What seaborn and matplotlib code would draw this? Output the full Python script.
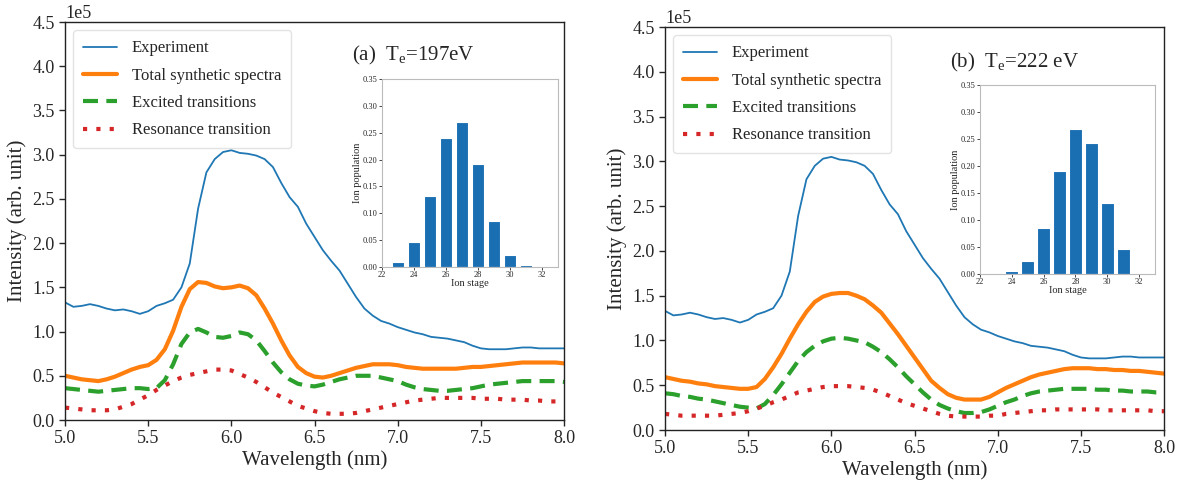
import numpy as np
import matplotlib
matplotlib.use("Agg")
import matplotlib.pyplot as plt
import seaborn as sns

# ---------------- data ----------------
wavelength = np.round(np.arange(5.0, 8.0001, 0.05), 2)

experiment = [1.33, 1.28, 1.29, 1.31, 1.29, 1.26, 1.24, 1.25, 1.23, 1.20,
              1.23, 1.29, 1.32, 1.36, 1.50, 1.77, 2.39, 2.80, 2.95, 3.03,
              3.05, 3.02, 3.01, 2.99, 2.95, 2.86, 2.68, 2.52, 2.41, 2.22,
              2.07, 1.92, 1.80, 1.69, 1.54, 1.39, 1.26, 1.18, 1.12, 1.09,
              1.05, 1.02, 0.99, 0.97, 0.94, 0.93, 0.92, 0.90, 0.88, 0.84,
              0.81, 0.80, 0.80, 0.80, 0.81, 0.82, 0.82, 0.81, 0.81, 0.81,
              0.81]

total_a = [0.50, 0.48, 0.46, 0.45, 0.44, 0.46, 0.49, 0.53, 0.57, 0.60,
           0.62, 0.68, 0.80, 1.01, 1.28, 1.48, 1.56, 1.55, 1.51, 1.49,
           1.50, 1.52, 1.49, 1.41, 1.26, 1.09, 0.90, 0.73, 0.60, 0.53,
           0.49, 0.48, 0.50, 0.53, 0.56, 0.59, 0.61, 0.63, 0.63, 0.63,
           0.62, 0.60, 0.59, 0.58, 0.58, 0.58, 0.58, 0.58, 0.59, 0.60,
           0.60, 0.61, 0.62, 0.63, 0.64, 0.65, 0.65, 0.65, 0.65, 0.65,
           0.64]

excited_a = [0.36, 0.35, 0.34, 0.33, 0.32, 0.33, 0.34, 0.35, 0.36, 0.36,
             0.35, 0.36, 0.45, 0.63, 0.86, 0.99, 1.03, 0.99, 0.94, 0.93,
             0.95, 0.99, 0.97, 0.90, 0.78, 0.65, 0.54, 0.46, 0.41, 0.39,
             0.38, 0.40, 0.43, 0.46, 0.48, 0.50, 0.50, 0.50, 0.48, 0.46,
             0.44, 0.40, 0.37, 0.35, 0.34, 0.33, 0.33, 0.34, 0.35, 0.36,
             0.38, 0.40, 0.41, 0.42, 0.43, 0.44, 0.44, 0.44, 0.44, 0.44,
             0.43]

resonance_a = [0.14, 0.13, 0.12, 0.11, 0.11, 0.11, 0.12, 0.15, 0.18, 0.23,
               0.28, 0.34, 0.39, 0.44, 0.48, 0.51, 0.53, 0.55, 0.57, 0.57,
               0.56, 0.52, 0.48, 0.43, 0.37, 0.31, 0.26, 0.21, 0.16, 0.13,
               0.10, 0.08, 0.07, 0.07, 0.07, 0.08, 0.10, 0.12, 0.14, 0.16,
               0.18, 0.20, 0.22, 0.23, 0.24, 0.25, 0.25, 0.25, 0.25, 0.25,
               0.24, 0.24, 0.24, 0.23, 0.23, 0.23, 0.22, 0.22, 0.21, 0.21,
               0.21]

total_b = [0.59, 0.57, 0.55, 0.54, 0.52, 0.51, 0.49, 0.48, 0.47, 0.46,
           0.46, 0.48, 0.57, 0.70, 0.85, 1.02, 1.18, 1.32, 1.43, 1.49,
           1.52, 1.53, 1.53, 1.50, 1.46, 1.39, 1.31, 1.19, 1.07, 0.94,
           0.81, 0.68, 0.55, 0.47, 0.40, 0.36, 0.34, 0.34, 0.34, 0.37,
           0.42, 0.47, 0.51, 0.55, 0.59, 0.62, 0.64, 0.66, 0.68, 0.69,
           0.69, 0.69, 0.68, 0.68, 0.67, 0.67, 0.66, 0.66, 0.65, 0.64,
           0.63]

excited_b = [0.41, 0.40, 0.38, 0.37, 0.35, 0.34, 0.32, 0.30, 0.28, 0.26,
             0.25, 0.24, 0.29, 0.39, 0.51, 0.64, 0.77, 0.87, 0.94, 0.99,
             1.02, 1.03, 1.02, 1.00, 0.98, 0.93, 0.87, 0.79, 0.70, 0.60,
             0.51, 0.42, 0.34, 0.28, 0.24, 0.21, 0.19, 0.19, 0.20, 0.23,
             0.27, 0.31, 0.34, 0.38, 0.41, 0.43, 0.44, 0.45, 0.46, 0.46,
             0.46, 0.46, 0.45, 0.45, 0.44, 0.44, 0.43, 0.43, 0.43, 0.42,
             0.42]

resonance_b = [0.18, 0.17, 0.16, 0.16, 0.16, 0.16, 0.16, 0.17, 0.18, 0.19,
               0.21, 0.24, 0.27, 0.31, 0.34, 0.38, 0.42, 0.44, 0.46, 0.48,
               0.49, 0.49, 0.49, 0.48, 0.47, 0.45, 0.42, 0.38, 0.34, 0.30,
               0.27, 0.24, 0.21, 0.18, 0.16, 0.15, 0.15, 0.15, 0.15, 0.16,
               0.16, 0.18, 0.19, 0.20, 0.21, 0.22, 0.22, 0.23, 0.23, 0.23,
               0.23, 0.23, 0.23, 0.22, 0.22, 0.22, 0.22, 0.22, 0.22, 0.21,
               0.21]

ion_stage = [23, 24, 25, 26, 27, 28, 29, 30, 31, 32]
ion_pop_a = [0.010, 0.047, 0.133, 0.240, 0.270, 0.192, 0.085, 0.022, 0.003, 0.0]
ion_pop_b = [0.0, 0.005, 0.025, 0.086, 0.190, 0.268, 0.243, 0.131, 0.046, 0.0]

series_labels = ["Experiment", "Total synthetic spectra",
                 "Excited transitions", "Resonance transition"]
panel_titles = [r"(a)  T$_{\rm e}$=197eV", r"(b)  T$_{\rm e}$=222 eV"]
scale = 1e5

# ---------------- style ----------------
sns.set_style("ticks")
plt.rcParams["font.family"] = ["Liberation Serif", "DejaVu Serif"]
plt.rcParams["mathtext.fontset"] = "custom"
plt.rcParams["mathtext.rm"] = "Liberation Serif"
plt.rcParams["mathtext.it"] = "Liberation Serif:italic"
plt.rcParams["axes.edgecolor"] = "#222222"

fig = plt.figure(figsize=(11.8, 4.86), dpi=100)
main_rects = [[0.0551, 0.1358, 0.4229, 0.8189], [0.5636, 0.1152, 0.4229, 0.8292]]
inset_rects = [[0.3237, 0.4506, 0.1492, 0.3868], [0.8305, 0.4362, 0.1483, 0.3889]]
title_pos = [(0.298, 0.885), (0.805, 0.872)]

panels = [(total_a, excited_a, resonance_a, ion_pop_a),
          (total_b, excited_b, resonance_b, ion_pop_b)]

for i, (tot, exc, res, pop) in enumerate(panels):
    ax = fig.add_axes(main_rects[i])
    sns.lineplot(x=wavelength, y=np.array(experiment) * scale, ax=ax,
                 color="#1f77b4", lw=1.3, label=series_labels[0])
    sns.lineplot(x=wavelength, y=np.array(tot) * scale, ax=ax,
                 color="#ff7f0e", lw=3, label=series_labels[1])
    sns.lineplot(x=wavelength, y=np.array(exc) * scale, ax=ax,
                 color="#2ca02c", lw=3, linestyle=(0, (3.6, 2.0)), label=series_labels[2])
    sns.lineplot(x=wavelength, y=np.array(res) * scale, ax=ax,
                 color="#d62728", lw=3, linestyle=(0, (1, 2.2)), label=series_labels[3])
    ax.set_xlim(5.0, 8.0)
    ax.set_ylim(0, 4.5e5)
    ax.set_xticks(np.arange(5.0, 8.01, 0.5))
    ax.set_yticks(np.arange(0, 4.51e5, 0.5e5))
    ax.ticklabel_format(axis="y", style="sci", scilimits=(5, 5), useMathText=False)
    ax.yaxis.get_offset_text().set_fontsize(13)
    ax.tick_params(labelsize=13, length=4, width=1)
    ax.set_xlabel("Wavelength (nm)", fontsize=15, labelpad=2)
    ax.set_ylabel("Intensity (arb. unit)", fontsize=15, labelpad=4)
    for s in ax.spines.values():
        s.set_linewidth(1.0)
    leg = ax.legend(loc="upper left", fontsize=12, handlelength=2.0,
                    handletextpad=0.9, borderpad=0.6, labelspacing=0.68,
                    frameon=True, fancybox=True)
    leg.get_frame().set_edgecolor("#dddddd")
    fig.text(title_pos[i][0], title_pos[i][1], panel_titles[i], fontsize=15,
             ha="left", va="center")

    ins = fig.add_axes(inset_rects[i])
    sns.barplot(x=ion_stage, y=pop, native_scale=True, ax=ins, color="#1a6fb3",
                saturation=1, width=0.8, edgecolor="white", linewidth=0.8)
    ins.set_xlim(22, 33)
    ins.set_ylim(0, 0.35)
    ins.set_xticks([22, 24, 26, 28, 30, 32])
    ins.set_yticks(np.arange(0, 0.351, 0.05))
    ins.set_yticklabels([f"{v:.2f}" for v in np.arange(0, 0.351, 0.05)])
    ins.tick_params(labelsize=6, length=2, width=0.6, pad=1)
    ins.set_xlabel("Ion stage", fontsize=7.5, labelpad=0)
    ins.set_ylabel("Ion population", fontsize=7.5, labelpad=1)
    for s in ins.spines.values():
        s.set_color("#bbbbbb")
        s.set_linewidth(0.8)

fig.savefig("out.png", dpi=100)
